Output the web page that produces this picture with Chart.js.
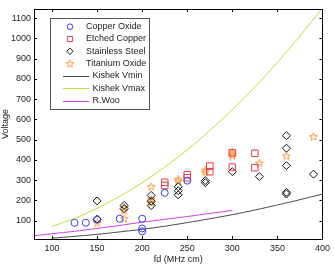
<!DOCTYPE html>
<html>
<head>
<meta charset="utf-8">
<script src="https://cdn.jsdelivr.net/npm/chart.js@4/dist/chart.umd.min.js"></script>
<style>
  html, body { margin: 0; padding: 0; background: #fff; }
  #wrap { width: 334px; height: 266px; }
</style>
</head>
<body>
<div id="wrap"><canvas id="chart" width="334" height="266"></canvas></div>
<script>
// values
const xTicks = [100, 150, 200, 250, 300, 350, 400];
const yTicks = [100, 200, 300, 400, 500, 600, 700, 800, 900, 1000, 1100];

const copperX = [125, 137.5, 150, 175, 200, 200, 200, 225, 250];
const copperY = [90, 90, 105, 110, 110, 62, 48, 238, 298];

const etchedX = [225, 225, 250, 250, 275, 275, 300, 300, 325, 325];
const etchedY = [290, 274, 327, 312, 370, 342, 435, 365, 433, 362];

const steelX = [150, 150, 180, 180, 210, 210, 210, 240, 240, 240, 270, 270, 300, 330, 360, 360, 360, 360, 360, 390];
const steelY = [198, 108, 176, 160, 225, 196, 175, 268, 248, 228, 298, 288, 342, 318, 520, 458, 372, 240, 232, 330];

const titanX = [150, 180, 180, 180, 210, 210, 210, 240, 240, 270, 270, 300, 300, 300, 330, 360, 390];
const titanY = [90, 165, 150, 110, 268, 205, 190, 305, 295, 350, 340, 440, 430, 420, 385, 420, 515];

const vminX = [100, 125, 150, 175, 200, 225, 250, 275, 300, 325, 350, 375, 400];
const vminY = [14, 23, 33, 45, 58, 73, 91, 110, 130, 153, 178, 204, 232];

const vmaxX = [100, 125, 150, 175, 200, 225, 250, 275, 300, 325, 350, 375, 400];
const vmaxY = [72, 112, 162, 220, 288, 365, 450, 545, 648, 760, 882, 1012, 1150];

const wooX = [80, 100, 125, 150, 175, 200, 225, 250, 275, 300];
const wooY = [26, 36, 48, 62, 77, 93, 107, 121, 136, 151];

function pts(xs, ys) {
  return xs.map((x, i) => ({ x: x, y: ys[i] }));
}

// open pentagram marker like the matlab one
function starImage(color) {
  const c = document.createElement('canvas');
  c.width = 11; c.height = 11;
  const g = c.getContext('2d');
  g.strokeStyle = color;
  g.lineWidth = 1;
  g.beginPath();
  for (let i = 0; i < 10; i++) {
    const r = i % 2 === 0 ? 4.1 : 1.7;
    const a = -Math.PI / 2 + i * Math.PI / 5;
    const px = 5.5 + r * Math.cos(a), py = 5.8 + r * Math.sin(a);
    if (i === 0) g.moveTo(px, py); else g.lineTo(px, py);
  }
  g.closePath();
  g.stroke();
  return c;
}

const blue = '#3c3cf0';
const red = '#e43c50';
const black = '#111';
const orange = '#f59a3c';
const gray = '#4a4a4a';
const lime = '#c4dc3c';
const magenta = '#d23ce6';
const star = starImage(orange);
const font = '"Liberation Sans", Arial, sans-serif';

const datasets = [
  { label: 'Copper Oxide', data: pts(copperX, copperY), pointStyle: 'circle', pointRadius: 3.5,
    borderColor: blue, backgroundColor: 'rgba(0,0,0,0)', borderWidth: 1, showLine: false },
  { label: 'Etched Copper', data: pts(etchedX, etchedY), pointStyle: 'rect', pointRadius: 4.6,
    borderColor: red, backgroundColor: 'rgba(0,0,0,0)', borderWidth: 1, showLine: false },
  { label: 'Stainless Steel', data: pts(steelX, steelY), pointStyle: 'rectRot', pointRadius: 4,
    borderColor: black, backgroundColor: 'rgba(0,0,0,0)', borderWidth: 1, showLine: false },
  { label: 'Titanium Oxide', data: pts(titanX, titanY), pointStyle: star, pointRadius: 5,
    borderColor: orange, backgroundColor: 'rgba(0,0,0,0)', borderWidth: 1, showLine: false },
  { label: 'Kishek Vmin', data: pts(vminX, vminY), showLine: true, pointRadius: 0,
    borderColor: gray, borderWidth: 1, tension: 0.3 },
  { label: 'Kishek Vmax', data: pts(vmaxX, vmaxY), showLine: true, pointRadius: 0,
    borderColor: lime, borderWidth: 1, tension: 0.3 },
  { label: 'R.Woo', data: pts(wooX, wooY), showLine: true, pointRadius: 0,
    borderColor: magenta, borderWidth: 1, tension: 0.3 }
];

const boxPlugin = {
  id: 'box',
  afterDatasetsDraw(chart) {
    const ctx = chart.ctx;
    const a = chart.chartArea;
    const xs = chart.scales.x, ys = chart.scales.y;
    ctx.save();
    ctx.strokeStyle = '#000';
    ctx.lineWidth = 1;
    ctx.beginPath();
    xTicks.forEach(v => {
      const px = Math.round(xs.getPixelForValue(v)) + 0.5;
      ctx.moveTo(px, a.bottom); ctx.lineTo(px, a.bottom - 3);
      ctx.moveTo(px, a.top); ctx.lineTo(px, a.top + 3);
    });
    yTicks.forEach(v => {
      const py = Math.round(ys.getPixelForValue(v)) + 0.5;
      ctx.moveTo(a.left, py); ctx.lineTo(a.left + 3, py);
      ctx.moveTo(a.right, py); ctx.lineTo(a.right - 3, py);
    });
    ctx.stroke();
    ctx.strokeRect(Math.round(a.left) + 0.5, Math.round(a.top) + 0.5,
      Math.round(a.right - a.left), Math.round(a.bottom - a.top));

    // legend inside the axes, top left
    const lx = 50.5, ly = 18.5, lw = 99, lh = 91;
    ctx.fillStyle = '#fff';
    ctx.fillRect(lx, ly, lw, lh);
    ctx.strokeStyle = '#555';
    ctx.strokeRect(lx, ly, lw, lh);
    ctx.font = '9px ' + font;
    ctx.textBaseline = 'middle';
    chart.data.datasets.forEach((ds, i) => {
      const y = 26.7 + i * 12.3;
      if (ds.showLine) {
        ctx.strokeStyle = ds.borderColor;
        ctx.beginPath();
        ctx.moveTo(63, Math.round(y) + 0.5); ctx.lineTo(89, Math.round(y) + 0.5);
        ctx.stroke();
        ctx.fillStyle = '#222';
        ctx.fillText(ds.label, 92.5, y);
      } else {
        ctx.strokeStyle = ds.borderColor;
        ctx.fillStyle = 'rgba(0,0,0,0)';
        Chart.helpers.drawPoint(ctx, {
          pointStyle: ds.pointStyle, radius: ds.pointRadius * 0.8, borderWidth: 1, rotation: 0
        }, 70, y);
        ctx.fillStyle = '#222';
        ctx.fillText(ds.label, 86, y);
      }
    });
    ctx.restore();
  }
};

new Chart(document.getElementById('chart'), {
  type: 'scatter',
  data: { datasets: datasets },
  plugins: [boxPlugin],
  options: {
    responsive: false,
    animation: false,
    layout: { padding: { top: 9, right: 8, left: 0, bottom: 0 } },
    plugins: { legend: { display: false }, tooltip: { enabled: false } },
    scales: {
      x: {
        type: 'linear', min: 80, max: 400,
        afterBuildTicks: s => { s.ticks = xTicks.map(v => ({ value: v })); },
        afterFit: s => { s.height = 27; },
        grid: { display: false, drawTicks: false }, border: { display: false },
        ticks: { color: '#222', font: { size: 9, family: font }, padding: 4, maxRotation: 0,
          callback: v => String(v) },
        title: { display: true, text: 'fd (MHz cm)', color: '#222', padding: { top: 0, bottom: 1 },
          font: { size: 9, family: font } }
      },
      y: {
        type: 'linear', min: 10, max: 1145,
        afterBuildTicks: s => { s.ticks = yTicks.map(v => ({ value: v })); },
        afterFit: s => { s.width = 34; },
        grid: { display: false, drawTicks: false }, border: { display: false },
        ticks: { color: '#222', font: { size: 9, family: font }, padding: 3,
          callback: v => String(v) },
        title: { display: true, text: 'Voltage', color: '#222', padding: { top: 0, bottom: 0 },
          font: { size: 9, family: font } }
      }
    }
  }
});
</script>
</body>
</html>
